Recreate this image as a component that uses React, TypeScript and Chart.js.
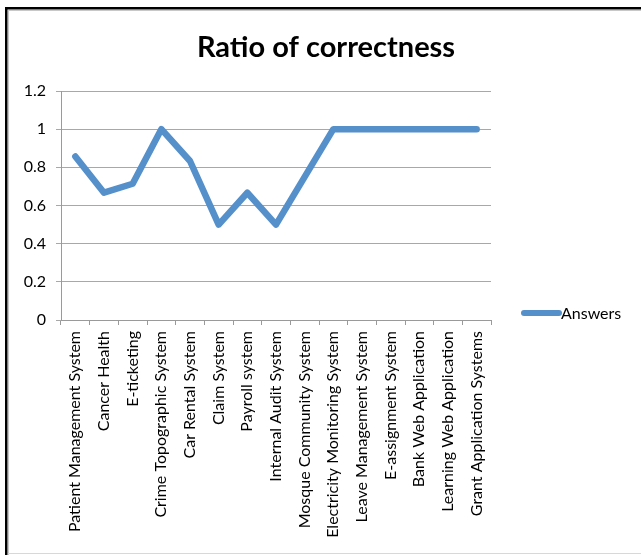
import React, { useEffect, useRef } from "react";
import { Chart, registerables } from "chart.js";

Chart.register(...registerables);

const categories = [
  "Patient Management System",
  "Cancer Health",
  "E-ticketing",
  "Crime Topographic System",
  "Car Rental System",
  "Claim System",
  "Payroll system",
  "Internal Audit System",
  "Mosque Community System",
  "Electricity Monitoring System",
  "Leave Management System",
  "E-assignment System",
  "Bank Web Application",
  "Learning Web Application",
  "Grant Application Systems",
];

const answers = [0.857, 0.667, 0.714, 1, 0.833, 0.5, 0.667, 0.5, 0.75, 1, 1, 1, 1, 1, 1];

const seriesName = "Answers";
const chartTitle = "Ratio of correctness";

const FONT = "Lato, 'Open Sans', sans-serif";
const LINE_COLOR = "#5590cb";

const framePlugin = {
  id: "frameAndLegend",
  beforeDraw(chart: any) {
    const ctx = chart.ctx;
    ctx.save();
    ctx.fillStyle = "#ffffff";
    ctx.fillRect(0, 0, chart.width, chart.height);
    ctx.fillStyle = "#000000";
    ctx.fillRect(5, 7, chart.width - 5, 2.5);
    ctx.fillRect(5, 7, 2.5, chart.height - 7);
    ctx.fillStyle = "#c8c8c8";
    ctx.fillRect(8, 10, chart.width - 8, 1);
    ctx.fillRect(8, 10, 1, chart.height - 10);
    ctx.fillStyle = "#d8d8d8";
    ctx.fillRect(8, 553, chart.width - 8, 1);
    ctx.restore();
  },
  afterDraw(chart: any) {
    const ctx = chart.ctx;
    ctx.save();
    ctx.fillStyle = "#000000";
    ctx.font = `bold 29px ${FONT}`;
    ctx.textAlign = "center";
    ctx.textBaseline = "middle";
    ctx.fillText(chartTitle, 326, 48);
    ctx.strokeStyle = LINE_COLOR;
    ctx.lineWidth = 6;
    ctx.lineCap = "round";
    ctx.beginPath();
    ctx.moveTo(524, 313);
    ctx.lineTo(559, 313);
    ctx.stroke();
    ctx.font = `16px ${FONT}`;
    ctx.textAlign = "left";
    ctx.textBaseline = "middle";
    ctx.fillText(seriesName, 561, 314);
    ctx.restore();
  },
};

export default function App() {
  const ref = useRef<HTMLCanvasElement | null>(null);

  useEffect(() => {
    document.body.style.margin = "0";
    if (!ref.current) return;
    const chart = new Chart(ref.current, {
      type: "line",
      data: {
        labels: categories,
        datasets: [
          {
            label: seriesName,
            data: answers,
            borderColor: LINE_COLOR,
            backgroundColor: LINE_COLOR,
            borderWidth: 6.5,
            borderJoinStyle: "round",
            borderCapStyle: "round",
            pointRadius: 0,
            tension: 0,
            fill: false,
          },
        ],
      },
      options: {
        animation: false,
        responsive: false,
        maintainAspectRatio: false,
        events: [],
        layout: { padding: { top: 91, left: 0, right: 150, bottom: 5 } },
        plugins: {
          legend: { display: false },
          title: { display: false },
          tooltip: { enabled: false },
        },
        scales: {
          x: {
            offset: true,
            afterFit(scale: any) {
              scale.height = 230;
            },
            grid: {
              offset: true,
              drawOnChartArea: false,
              drawTicks: true,
              tickLength: 5,
              color: "#9a9a9a",
            },
            border: { color: "#9a9a9a", width: 1 },
            ticks: {
              autoSkip: false,
              maxRotation: 90,
              minRotation: 90,
              padding: 6,
              color: "#000000",
              font: { family: FONT, size: 16 },
            },
          },
          y: {
            min: 0,
            max: 1.2,
            afterFit(scale: any) {
              scale.width = 61;
            },
            grid: {
              color: "#a8a8a8",
              tickLength: 5,
            },
            border: { color: "#9a9a9a", width: 1 },
            ticks: {
              stepSize: 0.2,
              padding: 10,
              color: "#000000",
              font: { family: FONT, size: 16 },
              callback: (v: any) => String(Math.round(Number(v) * 10) / 10),
            },
          },
        },
      },
      plugins: [framePlugin],
    });
    return () => chart.destroy();
  }, []);

  return (
    <div style={{ width: 641, height: 555 }}>
      <canvas ref={ref} width={641} height={555} style={{ display: "block", width: 641, height: 555 }} />
    </div>
  );
}
